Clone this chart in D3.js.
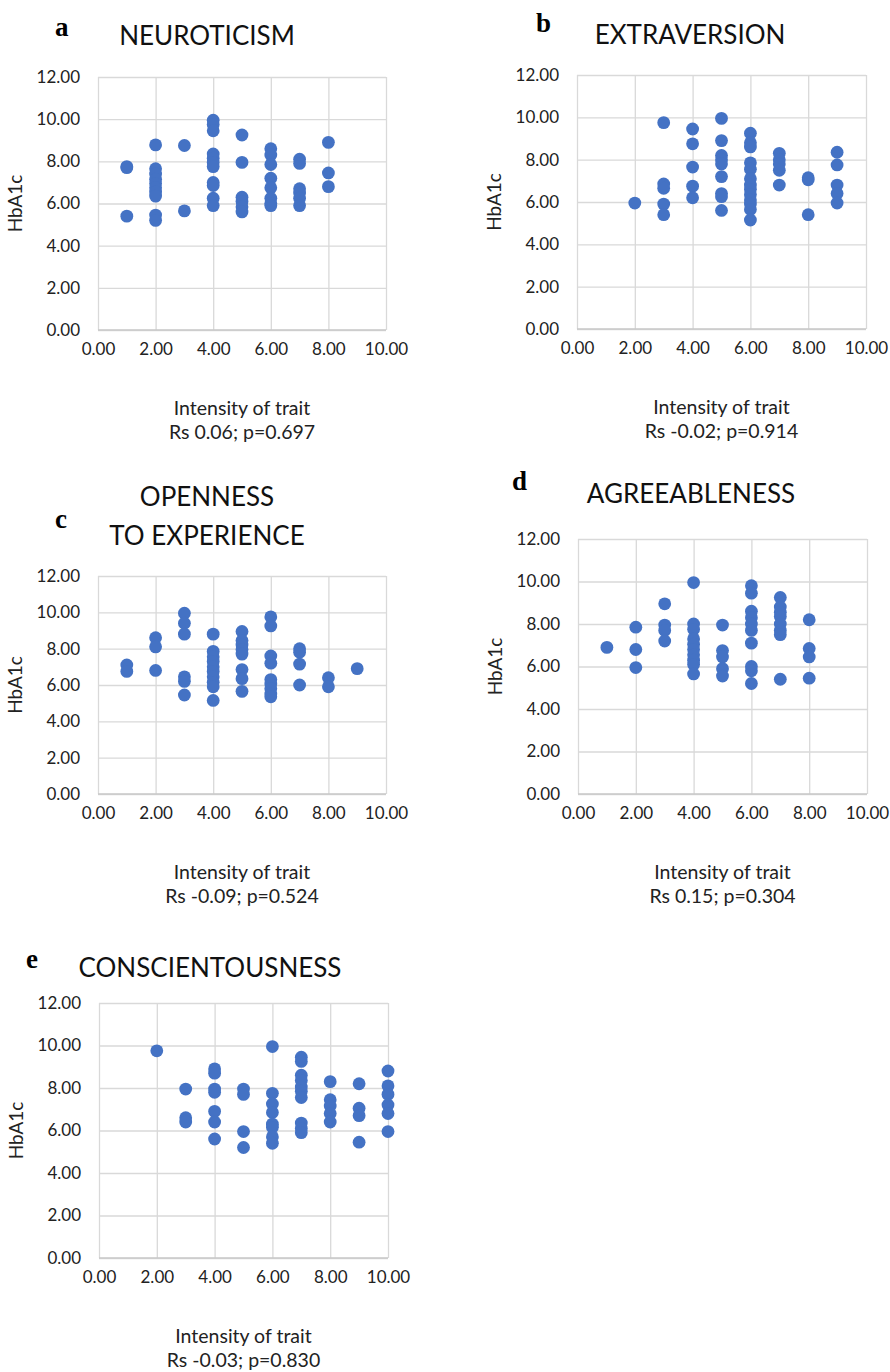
<!DOCTYPE html>
<html>
<head>
<meta charset="utf-8">
<script src="https://cdn.jsdelivr.net/npm/d3@7"></script>
<style>
  body { margin: 0; background: #fff; }
  svg { display: block; }
</style>
</head>
<body>
<div id="chart"></div>
<script>
// Trait score vs HbA1c, one list per trait
var neuroticism = [
  [1, 7.75], [1, 7.7], [1, 5.4],
  [2, 8.78], [2, 7.65], [2, 7.4], [2, 7.15], [2, 6.95], [2, 6.75], [2, 6.55], [2, 6.35], [2, 5.45], [2, 5.2],
  [3, 8.75], [3, 5.65],
  [4, 9.95], [4, 9.75], [4, 9.45], [4, 8.35], [4, 8.15], [4, 7.95], [4, 7.75], [4, 7.0], [4, 6.85], [4, 6.25], [4, 5.9],
  [5, 9.25], [5, 7.95], [5, 6.3], [5, 6.1], [5, 5.85], [5, 5.6],
  [6, 8.6], [6, 8.3], [6, 7.85], [6, 7.2], [6, 6.75], [6, 6.25], [6, 6.0], [6, 5.9],
  [7, 8.1], [7, 7.9], [7, 6.7], [7, 6.5], [7, 6.25], [7, 5.9],
  [8, 8.9], [8, 7.45], [8, 6.8]
];
var extraversion = [
  [2, 5.95],
  [3, 9.75], [3, 6.85], [3, 6.65], [3, 5.9], [3, 5.4],
  [4, 9.45], [4, 8.75], [4, 7.65], [4, 6.75], [4, 6.2],
  [5, 9.95], [5, 8.9], [5, 8.2], [5, 8.0], [5, 7.8], [5, 7.2], [5, 6.4], [5, 6.25], [5, 5.6],
  [6, 9.25], [6, 8.8], [6, 8.6], [6, 7.85], [6, 7.55], [6, 7.1], [6, 6.8], [6, 6.6], [6, 6.35], [6, 6.1], [6, 5.9], [6, 5.65], [6, 5.15],
  [7, 8.3], [7, 8.0], [7, 7.8], [7, 7.5], [7, 6.8],
  [8, 7.15], [8, 7.05], [8, 5.4],
  [9, 8.35], [9, 7.75], [9, 6.8], [9, 6.4], [9, 5.95]
];
var openness = [
  [1, 7.1], [1, 6.75],
  [2, 8.6], [2, 8.1], [2, 6.8],
  [3, 9.95], [3, 9.4], [3, 8.8], [3, 6.45], [3, 6.2], [3, 5.45],
  [4, 8.8], [4, 7.85], [4, 7.55], [4, 7.3], [4, 7.0], [4, 6.75], [4, 6.45], [4, 6.15], [4, 5.9], [4, 5.15],
  [5, 8.95], [5, 8.45], [5, 8.2], [5, 7.95], [5, 7.7], [5, 6.85], [5, 6.35], [5, 5.65],
  [6, 9.75], [6, 9.25], [6, 7.6], [6, 7.2], [6, 6.3], [6, 6.05], [6, 5.8], [6, 5.5], [6, 5.35],
  [7, 8.0], [7, 7.8], [7, 7.15], [7, 6.0],
  [8, 6.4], [8, 5.9],
  [9, 6.9]
];
var agreeableness = [
  [1, 6.9],
  [2, 7.85], [2, 6.8], [2, 5.95],
  [3, 8.95], [3, 7.95], [3, 7.7], [3, 7.2],
  [4, 9.95], [4, 8.0], [4, 7.75], [4, 7.3], [4, 7.05], [4, 6.8], [4, 6.55], [4, 6.3], [4, 6.1], [4, 5.65],
  [5, 7.95], [5, 6.75], [5, 6.45], [5, 5.9], [5, 5.55],
  [6, 9.8], [6, 9.45], [6, 8.6], [6, 8.3], [6, 8.0], [6, 7.7], [6, 7.1], [6, 6.0], [6, 5.8], [6, 5.2],
  [7, 9.25], [7, 8.8], [7, 8.55], [7, 8.35], [7, 8.0], [7, 7.7], [7, 7.5], [7, 5.4],
  [8, 8.2], [8, 6.85], [8, 6.45], [8, 5.45]
];
var conscientousness = [
  [2, 9.75],
  [3, 7.95], [3, 6.6], [3, 6.4],
  [4, 8.9], [4, 8.7], [4, 7.95], [4, 7.8], [4, 6.9], [4, 6.4], [4, 5.6],
  [5, 7.95], [5, 7.7], [5, 5.95], [5, 5.2],
  [6, 9.95], [6, 7.75], [6, 7.25], [6, 6.85], [6, 6.3], [6, 6.15], [6, 5.7], [6, 5.4],
  [7, 9.45], [7, 9.25], [7, 8.6], [7, 8.35], [7, 8.05], [7, 7.85], [7, 7.55], [7, 6.35], [7, 6.1], [7, 5.9],
  [8, 8.3], [8, 7.45], [8, 7.15], [8, 6.8], [8, 6.4],
  [9, 8.2], [9, 7.05], [9, 6.7], [9, 5.45],
  [10, 8.8], [10, 8.1], [10, 7.7], [10, 7.2], [10, 6.8], [10, 5.95]
];

var xTicks = [0, 2, 4, 6, 8, 10];
var yTicks = [0, 2, 4, 6, 8, 10, 12];
var xTitle = "Intensity of trait";
var yTitle = "HbA1c";
var titles = [["NEUROTICISM"], ["EXTRAVERSION"], ["OPENNESS", "TO EXPERIENCE"], ["AGREEABLENESS"], ["CONSCIENTOUSNESS"]];
var letters = ["a", "b", "c", "d", "e"];
var stats = ["Rs 0.06; p=0.697", "Rs -0.02; p=0.914", "Rs -0.09; p=0.524", "Rs 0.15; p=0.304", "Rs -0.03; p=0.830"];
var datasets = [neuroticism, extraversion, openness, agreeableness, conscientousness];

// layout of each panel (plot box, title and letter positions)
var panels = [
  { left: 98,  right: 386, top: 77,   bottom: 330,  titleX: 207, titleY: [45],       letterX: 55,  letterY: 36 },
  { left: 577, right: 866, top: 75,   bottom: 329,  titleX: 690, titleY: [44],       letterX: 536, letterY: 32 },
  { left: 98,  right: 386, top: 576,  bottom: 794,  titleX: 207, titleY: [506, 545], letterX: 55,  letterY: 528 },
  { left: 578, right: 867, top: 539,  bottom: 794,  titleX: 691, titleY: [503],      letterX: 512, letterY: 490 },
  { left: 99,  right: 388, top: 1003, bottom: 1258, titleX: 210, titleY: [977],      letterX: 26,  letterY: 968 }
];

var font = "Lato, 'Open Sans', sans-serif";
var dotColor = "#4472C4";
var fmt = d3.format(".2f");

var svg = d3.select("#chart")
  .append("svg")
    .attr("width", 890)
    .attr("height", 1372);

function drawPanel(p, data, titleLines, letter, stat) {
  var g = svg.append("g");
  var width = p.right - p.left,
      height = p.bottom - p.top;

  var x = d3.scaleLinear().domain([0, 10]).range([p.left, p.right]);
  var y = d3.scaleLinear().domain([0, 12]).range([p.bottom, p.top]);

  // gridlines
  g.append("g")
      .attr("transform", "translate(0," + p.bottom + ")")
      .call(d3.axisBottom(x).tickValues(xTicks).tickSize(-height).tickFormat(""))
      .call(function(s) { s.select(".domain").remove(); })
      .selectAll("line").attr("stroke", "#d9d9d9").attr("stroke-width", 1.3);
  g.append("g")
      .attr("transform", "translate(" + p.left + ",0)")
      .call(d3.axisLeft(y).tickValues(yTicks).tickSize(-width).tickFormat(""))
      .call(function(s) { s.select(".domain").remove(); })
      .selectAll("line").attr("stroke", "#d9d9d9").attr("stroke-width", 1.3);

  // bottom axis line
  g.append("line")
      .attr("x1", p.left).attr("x2", p.right)
      .attr("y1", p.bottom).attr("y2", p.bottom)
      .attr("stroke", "#c8c8c8").attr("stroke-width", 1.5);

  // tick labels
  var xa = g.append("g")
      .attr("transform", "translate(0," + p.bottom + ")")
      .call(d3.axisBottom(x).tickValues(xTicks).tickSize(0).tickPadding(13).tickFormat(fmt));
  xa.select(".domain").remove();
  xa.selectAll("text").style("font-family", font).style("font-size", "17px").attr("fill", "#222");

  var ya = g.append("g")
      .attr("transform", "translate(" + p.left + ",0)")
      .call(d3.axisLeft(y).tickValues(yTicks).tickSize(0).tickPadding(18).tickFormat(fmt));
  ya.select(".domain").remove();
  ya.selectAll("text").style("font-family", font).style("font-size", "17px").attr("fill", "#222");

  // points
  g.append("g")
    .selectAll("circle")
    .data(data)
    .enter()
    .append("circle")
      .attr("cx", function(d) { return x(d[0]); })
      .attr("cy", function(d) { return y(d[1]); })
      .attr("r", 6.4)
      .attr("fill", dotColor);

  // titles
  titleLines.forEach(function(t, i) {
    g.append("text")
      .attr("x", p.titleX)
      .attr("y", p.titleY[i])
      .attr("text-anchor", "middle")
      .style("font-family", font)
      .style("font-size", "26px")
      .attr("fill", "#111")
      .text(t);
  });

  g.append("text")
    .attr("x", p.letterX)
    .attr("y", p.letterY)
    .style("font-family", "'Liberation Serif', 'DejaVu Serif', serif")
    .style("font-weight", "bold")
    .style("font-size", "27px")
    .text(letter);

  // axis titles
  var cx = (p.left + p.right) / 2;
  g.append("text")
    .attr("x", cx)
    .attr("y", p.bottom + 85)
    .attr("text-anchor", "middle")
    .style("font-family", font)
    .style("font-size", "19.5px")
    .attr("fill", "#222")
    .text(xTitle);
  g.append("text")
    .attr("x", cx)
    .attr("y", p.bottom + 109)
    .attr("text-anchor", "middle")
    .style("font-family", font)
    .style("font-size", "19.5px")
    .attr("fill", "#222")
    .text(stat);

  g.append("text")
    .attr("transform", "translate(" + (p.left - 76) + "," + ((p.top + p.bottom) / 2) + ")rotate(-90)")
    .attr("text-anchor", "middle")
    .style("font-family", font)
    .style("font-size", "19px")
    .attr("fill", "#222")
    .text(yTitle);
}

panels.forEach(function(p, i) {
  drawPanel(p, datasets[i], titles[i], letters[i], stats[i]);
});
</script>
</body>
</html>
